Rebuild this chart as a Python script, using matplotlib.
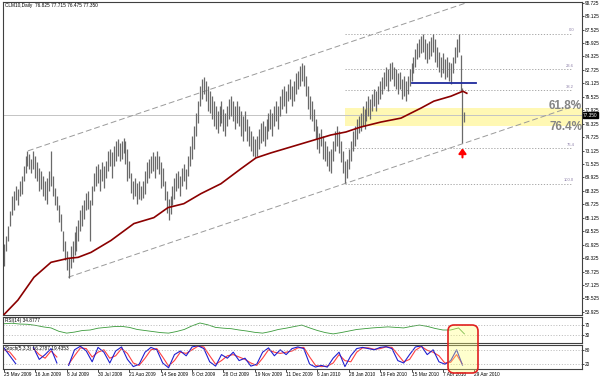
import matplotlib.pyplot as plt
import numpy as np
from matplotlib.patches import Rectangle, FancyBboxPatch
from matplotlib.transforms import IdentityTransform

plt.rcParams['font.family'] = ['Liberation Sans', 'DejaVu Sans']

#-------------------------------------------------------------------------------------------------
# %% DATA

title = 'CLM10,Daily  76.825 77.715 76.475 77.350'

high = [62.0, 63.0, 64.2, 65.9, 67.7, 68.3, 68.9, 68.6, 69.5, 70.1,
        71.3, 72.5, 73.1, 72.7, 72.1, 73.1, 72.5, 71.7, 71.0, 70.7,
        70.1, 69.5, 69.8, 70.7, 73.1, 70.1, 68.7, 67.7, 66.6, 65.6,
        63.6, 62.4, 61.2, 60.3, 61.8, 62.4, 63.4, 64.2, 64.8, 66.0,
        66.6, 67.2, 68.1, 68.3, 67.2, 68.9, 70.5, 71.3, 71.5, 70.9,
        71.7, 71.3, 71.9, 73.1, 73.3, 72.9, 73.7, 74.3, 74.5, 74.0,
        74.3, 74.6, 74.3, 73.3, 71.9, 70.5, 69.5, 69.8, 69.2, 69.5,
        68.9, 69.5, 70.7, 71.7, 72.1, 72.5, 72.9, 72.5, 73.1, 72.5,
        71.7, 71.0, 69.5, 68.3, 67.4, 67.7, 68.9, 69.8, 70.5, 70.7,
        70.1, 71.0, 71.5, 70.9, 72.5, 73.7, 74.9, 76.0, 77.6, 79.0,
        80.8, 81.6, 81.9, 81.4, 80.8, 80.2, 79.6, 79.0, 78.4, 77.8,
        78.4, 79.0, 78.1, 77.6, 78.4, 79.2, 79.6, 79.0, 78.4, 79.0,
        78.4, 77.8, 77.2, 77.8, 76.9, 76.0, 75.4, 74.9, 74.5, 74.9,
        75.7, 76.4, 76.6, 76.0, 76.9, 77.6, 78.1, 77.6, 78.4, 79.0,
        78.4, 79.6, 80.4, 80.8, 80.2, 81.1, 81.6, 80.8, 81.4, 82.3,
        82.6, 83.2, 83.5, 83.3, 82.0, 80.8, 79.6, 79.0, 78.1, 76.9,
        76.0, 75.2, 75.7, 74.9, 74.3, 73.7, 73.1, 73.3, 74.3, 75.4,
        76.0, 75.4, 74.3, 73.1, 71.9, 72.1, 73.3, 74.3, 75.4, 76.0,
        76.9, 77.2, 77.6, 78.4, 78.1, 79.0, 79.6, 79.2, 79.9, 80.4,
        80.2, 80.8, 81.4, 81.9, 82.5, 83.1, 82.8, 83.5, 83.7, 83.1,
        82.8, 82.3, 82.5, 81.6, 82.0, 81.4, 82.0, 82.8, 83.5, 84.3,
        85.2, 85.9, 86.4, 86.7, 87.0, 86.4, 85.9, 86.1, 86.6, 87.0,
        86.4, 85.5, 84.9, 84.3, 84.7, 84.0, 84.3, 83.7, 83.5, 84.3,
        85.5, 86.4, 87.0, 84.5, 80.6, 77.715]

low = [59.4, 61.2, 62.4, 64.2, 65.4, 66.0, 67.2, 66.6, 67.7, 68.0,
       69.5, 70.5, 71.3, 70.9, 70.5, 70.9, 69.9, 69.5, 68.3, 68.6,
       67.7, 67.2, 66.8, 68.3, 68.9, 67.7, 66.6, 66.0, 64.6, 63.6,
       61.2, 60.1, 58.9, 58.0, 59.1, 59.8, 60.7, 61.2, 62.4, 63.6,
       64.2, 65.0, 66.0, 66.2, 62.4, 66.6, 68.3, 68.9, 69.3, 68.3,
       69.5, 68.7, 69.8, 70.7, 71.3, 69.9, 71.3, 71.9, 72.5, 71.9,
       72.1, 72.8, 71.5, 69.5, 69.8, 68.1, 67.4, 67.7, 66.8, 67.4,
       67.2, 67.5, 68.0, 69.3, 69.8, 70.5, 70.7, 69.9, 70.9, 70.3,
       68.7, 68.9, 67.2, 65.7, 64.8, 65.6, 66.6, 67.4, 68.3, 68.7,
       67.7, 68.9, 69.5, 68.6, 70.1, 71.3, 72.1, 73.3, 74.9, 76.4,
       78.4, 79.2, 79.9, 79.0, 77.8, 77.6, 76.9, 76.0, 75.7, 75.2,
       76.0, 76.4, 75.4, 74.9, 76.0, 76.9, 77.2, 76.6, 75.7, 76.4,
       76.0, 74.9, 74.3, 75.4, 74.3, 73.7, 73.1, 72.5, 72.3, 72.5,
       73.3, 74.0, 74.3, 73.7, 74.5, 75.4, 75.7, 74.9, 76.0, 76.6,
       75.7, 77.2, 78.1, 78.4, 77.6, 79.0, 79.2, 78.4, 79.0, 79.9,
       80.4, 80.8, 81.4, 80.8, 79.6, 78.1, 76.9, 76.6, 75.4, 74.5,
       73.3, 72.8, 73.7, 72.1, 71.9, 71.3, 70.7, 70.5, 71.9, 73.1,
       73.7, 72.8, 71.7, 70.5, 69.3, 69.8, 70.9, 71.9, 73.1, 73.7,
       74.5, 75.2, 75.4, 76.0, 75.7, 76.6, 77.2, 76.9, 77.8, 78.4,
       77.8, 78.7, 79.2, 79.9, 80.4, 80.8, 80.2, 81.4, 81.6, 80.8,
       80.4, 79.9, 80.4, 79.2, 79.6, 79.0, 79.9, 80.8, 81.4, 82.3,
       83.1, 84.0, 84.3, 84.7, 84.9, 84.0, 83.5, 84.0, 84.4, 84.9,
       83.7, 83.1, 82.5, 81.9, 82.3, 81.6, 81.9, 81.4, 81.1, 82.3,
       83.5, 84.3, 84.9, 80.2, 74.0, 76.475]

last_close = 77.350

# dark red moving average, read at points along the line
ma_bar = [0, 7.1, 15.3, 24.0, 32.7, 37.8, 44.4, 54.6, 66.3, 76.5, 83.7, 91.8, 100.5, 110.7,
          120.9, 128.6, 136.2, 146.4, 156.6, 166.8, 174.5, 182.1, 192.3, 202.6, 212.8,
          219.4, 228.1, 234.2, 236.2]
ma_val = [53.6, 55.32, 58.04, 59.82, 60.29, 60.41, 61.0, 62.42, 64.43, 65.14, 66.33, 66.8,
          67.99, 69.17, 70.95, 72.25, 72.84, 73.55, 74.26, 74.97, 75.33, 75.92, 76.51,
          76.98, 78.17, 79.0, 79.59, 80.18, 79.94]

# RSI(14), read every 4 bars, plus the last bar
rsi_val = [74, 76, 73, 72, 68, 62, 58, 45, 38, 42, 48, 50, 57, 60, 63, 64, 60, 52, 48, 44,
           40, 38, 44, 52, 66, 77, 70, 60, 57, 55, 50, 46, 41, 38, 44, 52, 57, 63, 69, 58,
           48, 40, 35, 40, 46, 52, 55, 58, 60, 62, 60, 58, 64, 69, 64, 56, 50, 50, 58, 34.88]

# Stochastic(5,3,3) main / signal, read every 3 bars
nan = np.nan
stoch_k = [88, 55, 22, nan, nan, 90, 40, 60, 85, 25, nan, 15, 80, 95, 75, 30, 90, 70, 25, 75,
           92, 40, 10, 20, 70, 90, 80, 25, 5, 60, 75, 55, 92, 97, 85, 30, 12, 60, 45, 70,
           35, 45, 12, 20, 70, 88, 55, 80, 60, 85, 92, 85, 20, 8, 15, 8, 45, 70, 10, 55,
           85, 90, 85, 80, 90, 93, 85, 35, 25, 60, 92, 96, 60, 80, 30, 20, 35, 80, 16.28]
stoch_d = [80, 70, 40, nan, nan, 85, 60, 45, 75, 50, nan, 20, 55, 88, 85, 50, 70, 80, 45, 55,
           85, 65, 25, 15, 45, 80, 85, 50, 12, 35, 70, 65, 80, 95, 92, 55, 20, 35, 55, 60,
           50, 40, 25, 15, 45, 80, 70, 65, 70, 75, 88, 90, 50, 15, 10, 12, 25, 60, 35, 30,
           70, 88, 88, 82, 85, 92, 90, 60, 30, 40, 78, 94, 78, 70, 55, 25, 28, 60, 19.44]

date_labels = ['25 May 2009', '16 Jun 2009', '8 Jul 2009', '30 Jul 2009', '21 Aug 2009',
               '14 Sep 2009', '6 Oct 2009', '28 Oct 2009', '19 Nov 2009', '11 Dec 2009',
               '6 Jan 2010', '28 Jan 2010', '19 Feb 2010', '15 Mar 2010', '7 Apr 2010',
               '29 Apr 2010']

price_ticks = [53.925, 55.525, 57.125, 58.725, 60.325, 61.925, 63.525, 65.125, 66.725,
               68.325, 69.925, 71.525, 73.125, 74.725, 76.325, 77.925, 79.525, 81.125,
               82.725, 84.325, 85.925, 87.525, 89.125, 90.725]

# trend channel anchors (bar, price)
upper_chan = [(12.2, 73.08), (234.7, 90.6)]
lower_chan = [(32.7, 58.04), (254.7, 75.56)]

fib_levels = [87.05, 82.79, 80.30, 73.43, 69.17]
fib_names = ['0.0', '23.6', '38.2', '76.4', '100.0']
fib_start = 174
zone = (76.04, 78.17)
support = (208, 241, 81.13)
arrow_bar, arrow_price = 234, 73.0

#-------------------------------------------------------------------------------------------------
# %% PLOT

FS = 3.4
XMAX = 295
fig = plt.figure(figsize=(6, 3.76), dpi=100)
ax = fig.add_axes([3/600, 61/376, 579/600, 313/376])
ax_rsi = fig.add_axes([3/600, 33/376, 579/600, 26/376])
ax_st = fig.add_axes([3/600, 7/376, 579/600, 24/376])

bars = np.arange(len(high))

# yellow zone + fib levels
ax.add_patch(Rectangle((fib_start, zone[0]), XMAX - fib_start, zone[1] - zone[0],
                       facecolor='#fff8b4', edgecolor='none', zorder=0))
for lvl, name in zip(fib_levels, fib_names):
    ax.plot([fib_start, 290], [lvl, lvl], color='#9a9a9a', lw=0.6, ls=(0, (1.5, 2)), zorder=1)
    ax.text(291, lvl + 0.15, name, fontsize=3, color='#8c7fa8', ha='right', va='bottom')

ax.axhline(last_close, color='#c4c4c4', lw=0.7, zorder=1)

# channel lines
for (x0, y0), (x1, y1) in (upper_chan, lower_chan):
    k = (y1 - y0) / (x1 - x0)
    ax.plot([x0, XMAX], [y0, y0 + k * (XMAX - x0)], color='#9a9a9a', lw=0.7,
            ls=(0, (6, 3)), zorder=1)

ax.vlines(bars, low, high, color='#6a6a6a', lw=0.9, zorder=2)
ax.plot(ma_bar, ma_val, color='#8b0000', lw=1.2, zorder=3)
ax.plot([support[0], support[1]], [support[2], support[2]], color='#1f2a9c', lw=1.3, zorder=3)
ax.annotate('', xy=(arrow_bar, arrow_price + 0.4), xytext=(arrow_bar, arrow_price - 0.7),
            arrowprops=dict(arrowstyle='-|>,head_width=0.22,head_length=0.3',
                            color='#ff0000', lw=1.5, shrinkA=0, shrinkB=0), zorder=4)

ax.text(XMAX, 78.45, '61.8%', fontsize=8.5, fontweight='bold', color='#858585',
        ha='right', va='center', clip_on=False, zorder=5)
ax.text(XMAX, 75.9, '76.4%', fontsize=8.5, fontweight='bold', color='#858585',
        ha='right', va='center', clip_on=False, zorder=5)

ax.set_xlim(-0.5, XMAX)
ax.set_ylim(53.55, 90.8)
ax.yaxis.tick_right()
ax.set_yticks(price_ticks)
ax.set_yticklabels(['%.3f' % v for v in price_ticks])
ax.set_xticks([])
ax.tick_params(axis='y', labelsize=FS, length=1.5, pad=0.8, width=0.5)
ax.text(1.002, last_close, '%.3f' % last_close, transform=ax.get_yaxis_transform(),
        fontsize=FS, color='white', ha='left', va='center', clip_on=False, zorder=6,
        bbox=dict(facecolor='black', edgecolor='black', pad=0.4))
ax.text(0.003, 0.997, title, transform=ax.transAxes, fontsize=FS, va='top', ha='left')

# RSI
rsi_bar = list(range(0, 233, 4)) + [235]
ax_rsi.plot(rsi_bar, rsi_val, color='#3a9a3a', lw=0.6)
for lvl in (70, 30):
    ax_rsi.axhline(lvl, color='#a0a0a0', lw=0.5, ls=(0, (1.5, 2.5)))
ax_rsi.set_xlim(-0.5, XMAX)
ax_rsi.set_ylim(0, 100)
ax_rsi.set_xticks([])
ax_rsi.yaxis.tick_right()
ax_rsi.set_yticks([70, 30])
ax_rsi.tick_params(axis='y', labelsize=FS, length=1.5, pad=0.8, width=0.5)
ax_rsi.text(0.003, 0.97, 'RSI(14) 34.8777', transform=ax_rsi.transAxes, fontsize=FS, va='top')

# Stochastic
st_bar = list(range(0, 235, 3))
ax_st.plot(st_bar, stoch_d, color='#ff4040', lw=0.8)
ax_st.plot(st_bar, stoch_k, color='#2020d0', lw=0.8)
for lvl in (80, 20):
    ax_st.axhline(lvl, color='#a0a0a0', lw=0.5, ls=(0, (1.5, 2.5)))
ax_st.set_xlim(-0.5, XMAX)
ax_st.set_ylim(0, 100)
ax_st.yaxis.tick_right()
ax_st.set_yticks([80, 20])
ax_st.tick_params(axis='y', labelsize=FS, length=1.5, pad=0.8, width=0.5)
ax_st.set_xticks(range(0, 16 * len(date_labels), 16))
ax_st.set_xticklabels(date_labels, ha='left')
ax_st.tick_params(axis='x', labelsize=FS, length=2, pad=0.5, width=0.5)
ax_st.text(0.003, 0.97, 'Stoch(5,3,3) 16.2787 19.4353', transform=ax_st.transAxes,
           fontsize=FS, va='top')

for a in (ax, ax_rsi, ax_st):
    for s in a.spines.values():
        s.set_linewidth(0.8)
        s.set_color('#404040')

# highlight box over the oscillators
box = FancyBboxPatch((448, 3), 30, 48, boxstyle='round,pad=0,rounding_size=6',
                     transform=IdentityTransform(), facecolor=(1, 1, 0.45, 0.35),
                     edgecolor='#e02020', lw=1.2, zorder=10)
fig.add_artist(box)

fig.savefig('out.png', dpi=100)
